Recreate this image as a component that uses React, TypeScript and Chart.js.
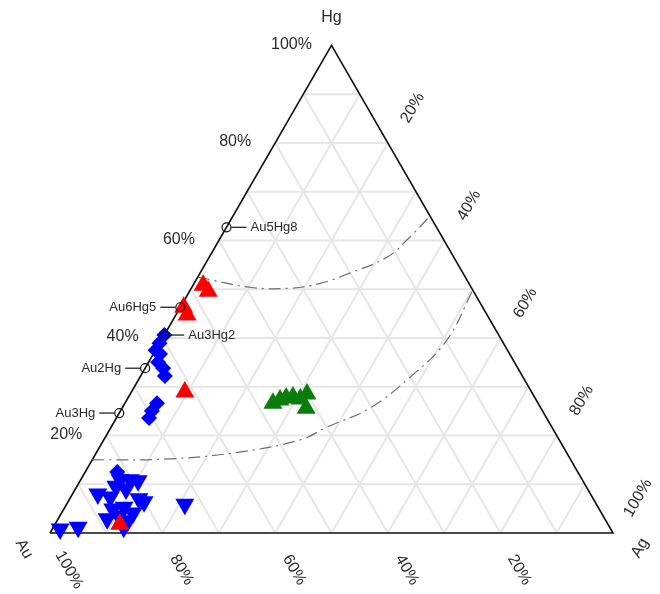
import React, { useEffect, useRef } from 'react';
import { Chart, registerables } from 'chart.js';
Chart.register(...registerables);

// ---------- data (all pairs are [Ag %, Hg %]; Au = 100 - Ag - Hg) ----------
const vertexNames = { left: 'Au', right: 'Ag', top: 'Hg' };
const tickValues = [20, 40, 60, 80, 100];
const tickLabels = ['20%', '40%', '60%', '80%', '100%'];
const gridSteps = [10, 20, 30, 40, 50, 60, 70, 80, 90];

const redTriangles: [number, number][] = [
  [1.8, 50.8], [3.3, 49.6], [0.6, 46.3], [2.0, 44.7], [9.5, 28.9], [11.5, 1.8],
];
const greenTriangles: [number, number][] = [
  [26.3, 26.6], [27.2, 27.3], [28.1, 27.7], [29.2, 27.9], [30.7, 27.5], [31.4, 28.5], [32.7, 25.6],
];
const blueDownTriangles: [number, number][] = [
  [1.4, 0.8], [4.4, 1.2], [4.5, 8.0], [7.0, 7.4], [7.0, 10.9], [8.8, 10.9], [10.3, 10.7],
  [9.0, 9.0], [12.3, 7.0], [13.5, 6.4], [8.7, 4.9], [10.5, 5.3], [12.7, 4.1], [8.7, 2.9],
  [10.5, 3.5], [12.6, 2.5], [12.5, 1.2], [21.0, 5.9], [6.9, 9.6],
];
const blueDiamonds: [number, number][] = [
  [0, 40.6], [0, 38.9], [0, 37.5], [1.2, 36.7], [1.7, 35.0], [3.2, 33.8], [4.3, 32.2],
  [5.7, 26.6], [5.6, 25.0], [5.8, 23.6], [5.7, 12.5],
];
const compoundNames = ['Au3Hg', 'Au2Hg', 'Au3Hg2', 'Au6Hg5', 'Au5Hg8'];
const compoundHg = [24.6, 33.8, 40.6, 46.3, 62.7];
const compoundLabelSide = ['left', 'left', 'right', 'left', 'right'];

const upperCurve: [number, number][] = [
  [0, 52.5], [10.3, 50.4], [17.5, 50.2], [22.4, 51.2], [26.6, 53.3], [31.6, 56.6], [33.5, 60.5], [35, 65],
];
const lowerCurve: [number, number][] = [
  [0, 15], [13.7, 15.2], [25.4, 16.6], [34.9, 19.1], [38.3, 21.7], [44, 25.6], [48, 32], [50.7, 39.5], [50.2, 49.8],
];

// ---------- helpers ----------
const H = Math.sqrt(3) / 2;
function tern(ag: number, hg: number) {
  return { x: (ag + hg / 2) / 100, y: (hg * H) / 100 };
}
const toPts = (arr: [number, number][]) => arr.map(([a, h]) => tern(a, h));

// layout (pixels)
const W = 660, HT = 594, SIDE = 563, LEFT = 50, BASE = 533;

function gridDatasets() {
  const ds: any[] = [];
  const mk = (p: any[]) => ({
    data: p, showLine: true, pointRadius: 0, borderColor: '#e6e6e6', borderWidth: 2, order: 7,
  });
  for (const k of gridSteps) {
    ds.push(mk([tern(0, k), tern(100 - k, k)])); // Hg const
    ds.push(mk([tern(k, 0), tern(k, 100 - k)])); // Ag const
    ds.push(mk([tern(100 - k, 0), tern(0, 100 - k)])); // Au const
  }
  return ds;
}

export default function App() {
  const ref = useRef<HTMLCanvasElement>(null);
  useEffect(() => {
    document.body.style.margin = '0';
    const canvas = ref.current!;
    const textPlugin = {
      id: 'ternaryText',
      afterDatasetsDraw(chart: any) {
        const ctx = chart.ctx;
        const xs = chart.scales.x, ys = chart.scales.y;
        const px = (ag: number, hg: number) => {
          const t = tern(ag, hg);
          return { x: xs.getPixelForValue(t.x), y: ys.getPixelForValue(t.y) };
        };
        const text = (s: string, x: number, y: number, rot: number, align: CanvasTextAlign = 'center') => {
          ctx.save();
          ctx.translate(x, y);
          ctx.rotate((rot * Math.PI) / 180);
          ctx.textAlign = align;
          ctx.textBaseline = 'middle';
          ctx.fillText(s, 0, 0);
          ctx.restore();
        };
        ctx.save();
        ctx.fillStyle = '#2a2a2a';
        ctx.font = '16px "Liberation Sans", Arial, sans-serif';
        tickValues.forEach((v, i) => {
          const l = tickLabels[i];
          const pl = px(0, v);
          text(l, pl.x - 40, pl.y - 1, 0);
          const pr = px(v, 100 - v);
          text(l, pr.x + 25, pr.y - 35, -60);
          const pb = px(100 - v, 0);
          text(l, pb.x + 19, pb.y + 37, 60);
        });
        const top = px(0, 100), lv = px(0, 0), rv = px(100, 0);
        text(vertexNames.top, top.x, top.y - 28, 0);
        text(vertexNames.left, lv.x - 26, lv.y + 16, 60);
        text(vertexNames.right, rv.x + 27, rv.y + 15, -60);

        ctx.font = '13px "Liberation Sans", Arial, sans-serif';
        ctx.strokeStyle = '#111';
        ctx.lineWidth = 1.2;
        compoundNames.forEach((n, i) => {
          const p = px(0, compoundHg[i]);
          const s = compoundLabelSide[i] === 'left' ? -1 : 1;
          ctx.beginPath();
          ctx.moveTo(p.x + s * 5, p.y);
          ctx.lineTo(p.x + s * 20, p.y);
          ctx.stroke();
          text(n, p.x + s * 24, p.y, 0, s < 0 ? 'right' : 'left');
        });
        ctx.restore();
      },
    };

    const chart = new Chart(canvas, {
      type: 'scatter',
      data: {
        datasets: [
          {
            data: compoundHg.map((h) => tern(0, h)),
            pointStyle: 'circle', pointRadius: 4.5, backgroundColor: 'rgba(0,0,0,0)',
            borderColor: '#111', borderWidth: 1.2, order: 0,
          },
          {
            data: toPts(redTriangles), pointStyle: 'triangle', pointRadius: 11,
            backgroundColor: '#ff0000', borderWidth: 0, order: 1,
          },
          {
            data: toPts(greenTriangles), pointStyle: 'triangle', pointRadius: 11,
            backgroundColor: '#0a7d0a', borderWidth: 0, order: 2,
          },
          {
            data: toPts(blueDownTriangles), pointStyle: 'triangle', rotation: 180, pointRadius: 11,
            backgroundColor: '#0000ff', borderWidth: 0, order: 3,
          },
          {
            data: toPts(blueDiamonds), pointStyle: 'rectRot', pointRadius: 8,
            backgroundColor: '#0000ff', borderWidth: 0, order: 4,
          },
          {
            data: toPts(upperCurve), showLine: true, pointRadius: 0, tension: 0.4,
            borderColor: '#6e6e6e', borderWidth: 1.2, borderDash: [12, 5, 2, 5], order: 5,
          },
          {
            data: toPts(lowerCurve), showLine: true, pointRadius: 0, tension: 0.4,
            borderColor: '#6e6e6e', borderWidth: 1.2, borderDash: [12, 5, 2, 5], order: 5,
          },
          {
            data: [tern(0, 0), tern(100, 0), tern(0, 100), tern(0, 0)],
            showLine: true, pointRadius: 0, borderColor: '#111', borderWidth: 1.6, order: 6,
          },
          ...gridDatasets(),
        ] as any,
      },
      options: {
        responsive: false,
        animation: false,
        devicePixelRatio: 1,
        events: [],
        layout: { padding: 0, autoPadding: false },
        plugins: { legend: { display: false }, tooltip: { enabled: false } },
        scales: {
          x: {
            type: 'linear', display: false, bounds: 'data',
            min: -LEFT / SIDE, max: (W - LEFT) / SIDE,
          },
          y: {
            type: 'linear', display: false, bounds: 'data',
            min: -(HT - BASE) / SIDE, max: BASE / SIDE,
          },
        },
      } as any,
      plugins: [textPlugin],
    });
    return () => chart.destroy();
  }, []);
  return (
    <div style={{ width: W, height: HT }}>
      <canvas ref={ref} width={W} height={HT} style={{ display: 'block' }} />
    </div>
  );
}
